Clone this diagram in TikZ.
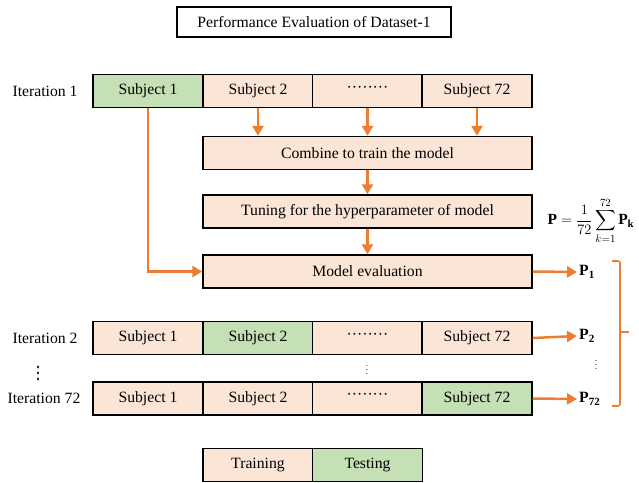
\documentclass[tikz,border=0pt]{standalone}
\usepackage{amsmath}
\usepackage{fontspec}
\setmainfont{Liberation Serif}
\usetikzlibrary{arrows.meta}

\definecolor{trainpink}{HTML}{FBE5D6}
\definecolor{testgreen}{HTML}{C5E0B4}
\definecolor{flowline}{HTML}{ED7D31}
\newcommand{\subjdots}{\raisebox{4pt}{\textperiodcentered\textperiodcentered\textperiodcentered\textperiodcentered\textperiodcentered\textperiodcentered\textperiodcentered\textperiodcentered}}

\begin{document}
\begin{tikzpicture}[x=1pt,y=-1pt,
  lbl/.style={font=\fontsize{15.7}{18}\selectfont},
  cell/.style={lbl, draw, line width=1.4pt, fill=trainpink, minimum width=110pt, minimum height=33pt, inner sep=0pt},
  test/.style={cell, fill=testgreen},
  wide/.style={cell, minimum width=329pt},
  flow/.style={draw=flowline, line width=2.5pt, -{Triangle[length=10pt,width=11pt]}},
  pval/.style={lbl, anchor=west, inner sep=2pt}]
  \useasboundingbox (0,0) rectangle (639,482);
  \node[lbl, draw, line width=1.1pt, minimum width=274pt, minimum height=30pt] (title) at (314,22) {Performance Evaluation of Dataset-1};

  \node[lbl] (it1) at (45,91) {Iteration 1};
  \node[test] (a1) at (148,91) {Subject 1};
  \node[cell] (a2) at (258,91) {Subject 2};
  \node[cell] (a3) at (367.5,91) {\subjdots};
  \node[cell] (a4) at (477,91) {Subject 72};

  \node[wide] (comb) at (367.5,153) {Combine to train the model};
  \node[wide] (tune) at (367.5,211.5) {Tuning for the hyperparameter of model};
  \node[wide] (eval) at (367.5,271.5) {Model evaluation};

  \draw[flow] (a2.south) -- (a2.south |- comb.north);
  \draw[flow] (a3.south) -- (a3.south |- comb.north);
  \draw[flow] (a4.south) -- (a4.south |- comb.north);
  \draw[flow] (comb) -- (tune);
  \draw[flow] (tune) -- (eval);
  \draw[flow] (a1.south) |- (eval.west);

  \node[lbl] (it2) at (45,338) {Iteration 2};
  \node[cell] (b1) at (148,338) {Subject 1};
  \node[test] (b2) at (258,338) {Subject 2};
  \node[cell] (b3) at (367.5,338) {\subjdots};
  \node[cell] (b4) at (477,338) {Subject 72};

  \node[lbl] (it72) at (44,398.5) {Iteration 72};
  \node[cell] (c1) at (148,398.5) {Subject 1};
  \node[cell] (c2) at (258,398.5) {Subject 2};
  \node[cell] (c3) at (367.5,398.5) {\subjdots};
  \node[test] (c4) at (477,398.5) {Subject 72};

  \node[lbl, inner sep=0pt] (vdl) at (38,369) {\scalebox{1}[1.5]{$\vdots$}};
  \node[font=\small, inner sep=0pt] (vdm) at (367,367) {$\vdots$};
  \node[font=\small, inner sep=0pt] (vdr) at (596,362) {$\vdots$};

  \node[font=\fontsize{15.5}{18}\selectfont, inner sep=0pt] (fml) at (591,221) {$\mathbf{P}=\dfrac{1}{72}\displaystyle\sum_{k=1}^{72}\mathbf{P}_{\mathbf{k}}$};
  \node[pval] (p1) at (577,272) {\textbf{P}\textsubscript{\textbf{1}}};
  \node[pval] (p2) at (577,336) {\textbf{P}\textsubscript{\textbf{2}}};
  \node[pval] (p72) at (577,399) {\textbf{P}\textsubscript{\textbf{72}}};
  \draw[flow] (eval.east) -- (p1.west);
  \draw[flow] (b4.east) -- (p2.west);
  \draw[flow] (c4.east) -- (p72.west);

  \draw[flowline, line width=1.6pt, rounded corners=2pt] (612,261) -- (620,261) -- (620,406) -- (612,406);
  \draw[flowline, line width=1.6pt] (620,332) -- (629,332);

  \node[cell] (train) at (258,465) {Training};
  \node[test] (testing) at (367.5,465) {Testing};
\end{tikzpicture}
\end{document}
